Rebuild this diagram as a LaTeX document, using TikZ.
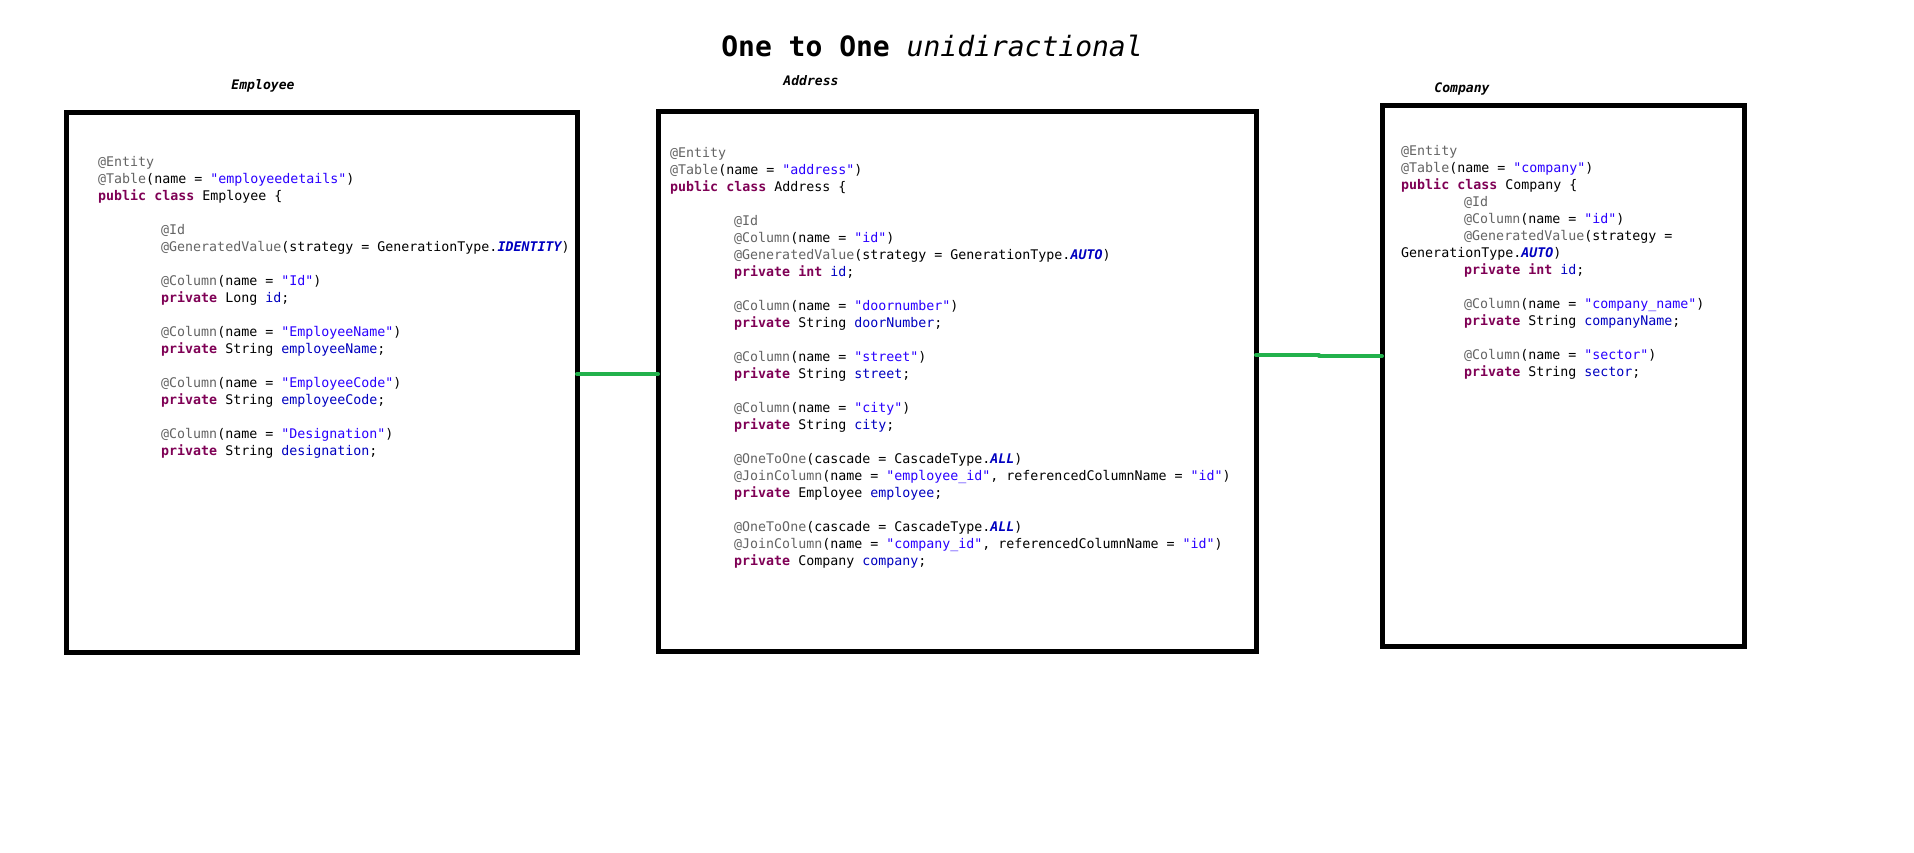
\documentclass[tikz,border=0pt]{standalone}
\usepackage{fontspec}
\setmonofont{DejaVu Sans Mono}
\usetikzlibrary{calc}
\definecolor{anncol}{HTML}{646464}
\definecolor{kwcol}{HTML}{7F0055}
\definecolor{strcol}{HTML}{2A00FF}
\definecolor{fldcol}{HTML}{0000C0}
\definecolor{linkgreen}{HTML}{22B14C}
\newcommand\jann[1]{\textcolor{anncol}{#1}}
\newcommand\jkw[1]{\textcolor{kwcol}{\bfseries #1}}
\newcommand\jstr[1]{\textcolor{strcol}{#1}}
\newcommand\jfld[1]{\textcolor{fldcol}{#1}}
\newcommand\jcst[1]{\textcolor{fldcol}{\bfseries\itshape #1}}
\tikzset{
  classbox/.style={draw=black, line width=5pt, outer sep=0pt, inner sep=0pt},
  code/.style={anchor=base west, inner sep=0pt, font=\ttfamily\fontsize{13.3pt}{17pt}\selectfont},
  lbl/.style={anchor=base, inner sep=0pt, font=\ttfamily\bfseries\itshape\fontsize{13.1pt}{16pt}\selectfont},
  ttl/.style={anchor=base, inner sep=0pt, font=\ttfamily\fontsize{28pt}{32pt}\selectfont},
  link/.style={draw=linkgreen, line width=4pt, line cap=round}
}
\begin{document}
\begin{tikzpicture}[x=1pt,y=-1pt]
\fill[white] (0,0) rectangle (1914,852);
\useasboundingbox (0,0) rectangle (1914,852);

% title and labels
\node[ttl] (title) at (932,56) {\textbf{One to One} \textit{unidiractional}};
\node[lbl] (lemp) at (263,89) {Employee};
\node[lbl] (laddr) at (811,85) {Address};
\node[lbl] (lcomp) at (1462,92) {Company};

% boxes
\node[classbox, minimum width=511pt, minimum height=540pt] (emp) at (321.5,382) {};
\node[classbox, minimum width=598pt, minimum height=540pt] (addr) at (957,381) {};
\node[classbox, minimum width=362pt, minimum height=541pt] (comp) at (1563,375.5) {};

% connectors
\draw[link] ([yshift=8pt]emp.east) -- ([yshift=8pt]emp.east -| addr.west);
\coordinate (jog) at ($(addr.east)!0.5!(comp.west)$);
\draw[link] ([yshift=26pt]addr.east) -- ([yshift=26pt]addr.east -| jog);
\draw[link] ([yshift=19.5pt]comp.west -| jog) -- ([yshift=19.5pt]comp.west);

% Employee code
\node[code] (e0) at (98,166) {\jann{@Entity}};
\node[code] (e1) at (98,183) {\jann{@Table}(name = \jstr{"employeedetails"})};
\node[code] (e2) at (98,200) {\jkw{public} \jkw{class} Employee \{};
\node[code] (e4) at (161,234) {\jann{@Id}};
\node[code] (e5) at (161,251) {\jann{@GeneratedValue}(strategy = GenerationType.\jcst{IDENTITY})};
\node[code] (e7) at (161,285) {\jann{@Column}(name = \jstr{"Id"})};
\node[code] (e8) at (161,302) {\jkw{private} Long \jfld{id};};
\node[code] (e10) at (161,336) {\jann{@Column}(name = \jstr{"EmployeeName"})};
\node[code] (e11) at (161,353) {\jkw{private} String \jfld{employeeName};};
\node[code] (e13) at (161,387) {\jann{@Column}(name = \jstr{"EmployeeCode"})};
\node[code] (e14) at (161,404) {\jkw{private} String \jfld{employeeCode};};
\node[code] (e16) at (161,438) {\jann{@Column}(name = \jstr{"Designation"})};
\node[code] (e17) at (161,455) {\jkw{private} String \jfld{designation};};

% Address code
\node[code] (a0) at (670,157) {\jann{@Entity}};
\node[code] (a1) at (670,174) {\jann{@Table}(name = \jstr{"address"})};
\node[code] (a2) at (670,191) {\jkw{public} \jkw{class} Address \{};
\node[code] (a4) at (734,225) {\jann{@Id}};
\node[code] (a5) at (734,242) {\jann{@Column}(name = \jstr{"id"})};
\node[code] (a6) at (734,259) {\jann{@GeneratedValue}(strategy = GenerationType.\jcst{AUTO})};
\node[code] (a7) at (734,276) {\jkw{private} \jkw{int} \jfld{id};};
\node[code] (a9) at (734,310) {\jann{@Column}(name = \jstr{"doornumber"})};
\node[code] (a10) at (734,327) {\jkw{private} String \jfld{doorNumber};};
\node[code] (a12) at (734,361) {\jann{@Column}(name = \jstr{"street"})};
\node[code] (a13) at (734,378) {\jkw{private} String \jfld{street};};
\node[code] (a15) at (734,412) {\jann{@Column}(name = \jstr{"city"})};
\node[code] (a16) at (734,429) {\jkw{private} String \jfld{city};};
\node[code] (a18) at (734,463) {\jann{@OneToOne}(cascade = CascadeType.\jcst{ALL})};
\node[code] (a19) at (734,480) {\jann{@JoinColumn}(name = \jstr{"employee\_id"}, referencedColumnName = \jstr{"id"})};
\node[code] (a20) at (734,497) {\jkw{private} Employee \jfld{employee};};
\node[code] (a22) at (734,531) {\jann{@OneToOne}(cascade = CascadeType.\jcst{ALL})};
\node[code] (a23) at (734,548) {\jann{@JoinColumn}(name = \jstr{"company\_id"}, referencedColumnName = \jstr{"id"})};
\node[code] (a24) at (734,565) {\jkw{private} Company \jfld{company};};

% Company code
\node[code] (c0) at (1401,155) {\jann{@Entity}};
\node[code] (c1) at (1401,172) {\jann{@Table}(name = \jstr{"company"})};
\node[code] (c2) at (1401,189) {\jkw{public} \jkw{class} Company \{};
\node[code] (c3) at (1464,206) {\jann{@Id}};
\node[code] (c4) at (1464,223) {\jann{@Column}(name = \jstr{"id"})};
\node[code] (c5) at (1464,240) {\jann{@GeneratedValue}(strategy =};
\node[code] (c6) at (1401,257) {GenerationType.\jcst{AUTO})};
\node[code] (c7) at (1464,274) {\jkw{private} \jkw{int} \jfld{id};};
\node[code] (c9) at (1464,308) {\jann{@Column}(name = \jstr{"company\_name"})};
\node[code] (c10) at (1464,325) {\jkw{private} String \jfld{companyName};};
\node[code] (c12) at (1464,359) {\jann{@Column}(name = \jstr{"sector"})};
\node[code] (c13) at (1464,376) {\jkw{private} String \jfld{sector};};
\end{tikzpicture}
\end{document}
